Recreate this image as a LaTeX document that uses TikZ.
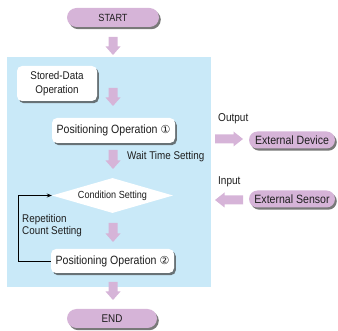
\documentclass[tikz,border=0pt]{standalone}
\usepackage{fontspec}
\setmainfont[FakeStretch=0.88]{Liberation Sans}
\newfontfamily\circfont{DejaVu Sans}
\usetikzlibrary{shapes.geometric,shapes.misc,shadows,arrows.meta}
\definecolor{panel}{RGB}{201,233,248}
\definecolor{lav}{RGB}{214,180,216}
\definecolor{txt}{RGB}{30,30,30}
\newcommand\fatdown[3]{\fill[lav] (#1-4.5,#2) -- (#1+4.5,#2) -- (#1+4.5,#3-8.5) -- (#1+7.5,#3-8.5) -- (#1,#3) -- (#1-7.5,#3-8.5) -- (#1-4.5,#3-8.5) -- cycle;}
\newcommand\fatright[3]{\fill[lav] (#1,#3-4.5) -- (#1,#3+4.5) -- (#2-9.5,#3+4.5) -- (#2-9.5,#3+7.5) -- (#2,#3) -- (#2-9.5,#3-7.5) -- (#2-9.5,#3-4.5) -- cycle;}
\newcommand\fatleft[3]{\fill[lav] (#2,#3-4.5) -- (#2,#3+4.5) -- (#1+9.5,#3+4.5) -- (#1+9.5,#3+7.5) -- (#1,#3) -- (#1+9.5,#3-7.5) -- (#1+9.5,#3-4.5) -- cycle;}
\begin{document}
\begin{tikzpicture}[x=1pt,y=-1pt,
  shad/.style={drop shadow={shadow xshift=1.8pt,shadow yshift=-2.2pt,fill=black!75,opacity=0.7}},
  pill/.style={rounded rectangle, fill=lav, shad, inner sep=0pt, text=txt},
  wbox/.style={rectangle, rounded corners=5pt, fill=white, shad, inner sep=0pt, text=txt, align=center},
  lbl/.style={text=txt, inner sep=0pt},
  fs/.style={font=\fontsize{#1}{14}\selectfont}]
\useasboundingbox (0,0) rectangle (338,331);
\fill[panel] (7,57) rectangle (211,287);

\node[pill, minimum width=92pt, minimum height=19pt, fs=10.4] (start) at (113,17.5) {START};
\node[wbox, minimum width=80pt, minimum height=35pt, fs=11.2] (stored) at (57,83.5) {Stored-Data\\Operation};
\node[wbox, minimum width=123pt, minimum height=25pt, fs=12] (p1) at (113.5,130.5) {Positioning Operation {\circfont\fontsize{11}{12}\selectfont ①}};
\node[lbl, anchor=west, fs=11.2] (wait) at (127,157) {Wait Time Setting};
\node[diamond, fill=white, minimum width=121pt, minimum height=35pt, aspect=3.46, inner sep=0pt, fs=10.3, text=txt] (cond) at (112.5,195.5) {Condition Setting};
\node[lbl, anchor=west, align=left, font=\fontsize{11.2}{12.5}\selectfont] (rep) at (22,225.5) {Repetition\\Count Setting};
\node[wbox, minimum width=123pt, minimum height=24pt, fs=12] (p2) at (112.5,261) {Positioning Operation {\circfont\fontsize{11}{12}\selectfont ②}};
\node[pill, minimum width=90pt, minimum height=19pt, fs=11.2] (end) at (112,318.5) {END};

\node[lbl, anchor=west, fs=11.4] (out) at (218,119) {Output};
\node[lbl, anchor=west, fs=11.4] (in) at (218,182) {Input};
\node[pill, minimum width=86pt, minimum height=17pt, fs=12] (dev) at (292,140) {External Device};
\node[pill, minimum width=86pt, minimum height=17pt, fs=12] (sens) at (292,199) {External Sensor};

\fatdown{113}{37}{55}
\fatdown{113}{88}{106}
\fatdown{113}{150}{169}
\fatdown{113}{223}{242}
\fatdown{113}{282}{300}
\fatright{215}{243}{139}
\fatleft{215}{243}{200}

\coordinate (fb) at (18,261);
\draw[line width=0.8pt, -{Stealth[length=5pt,width=4pt]}] (p2.west) -- (fb) |- (cond.west);
\end{tikzpicture}
\end{document}
